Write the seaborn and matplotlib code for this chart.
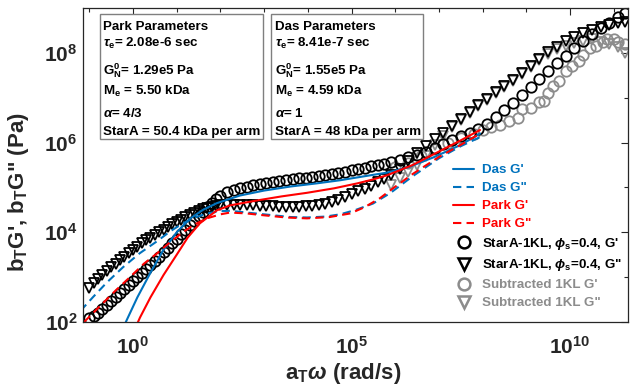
import numpy as np
import pandas as pd
import seaborn as sns
import matplotlib
matplotlib.use("Agg")
import matplotlib.pyplot as plt
from matplotlib.lines import Line2D
from matplotlib.patches import Rectangle
from matplotlib.ticker import FixedLocator, NullFormatter

# ---------------- data (log10 values) ----------------
# StarA-1KL, phi_s = 0.4 : frequency (log10 a_T w) and moduli (log10 Pa)
star_logw = [-1.0, -0.9, -0.8, -0.7, -0.6, -0.5, -0.4, -0.3, -0.2, -0.1,
             0.0, 0.1, 0.2, 0.3, 0.4, 0.5, 0.6, 0.7, 0.8, 0.9,
             1.0, 1.1, 1.2, 1.3, 1.4, 1.5, 1.6, 1.7, 1.8, 1.9, 2.0,
             2.15, 2.3, 2.45, 2.6, 2.75, 2.9, 3.05, 3.2, 3.35, 3.5,
             3.65, 3.8, 3.95, 4.1, 4.25, 4.4, 4.55, 4.7, 4.85, 5.0,
             5.15, 5.3, 5.45, 5.6, 5.75, 5.9,
             6.1, 6.3, 6.5, 6.7, 6.9, 7.1, 7.3, 7.5, 7.7, 7.9,
             8.1, 8.3, 8.5, 8.7, 8.9, 9.1, 9.3, 9.5, 9.7, 9.9,
             10.1, 10.3, 10.5, 10.7, 10.9, 11.1, 11.25]
star_logGp = [2.08, 2.14, 2.21, 2.29, 2.37, 2.46, 2.55, 2.64, 2.73, 2.82,
              2.91, 3.0, 3.1, 3.19, 3.28, 3.37, 3.46, 3.56, 3.66, 3.76,
              3.86, 3.96, 4.06, 4.16, 4.26, 4.36, 4.46, 4.56, 4.65, 4.74, 4.82,
              4.9, 4.95, 4.99, 5.02, 5.05, 5.08, 5.1, 5.12, 5.14, 5.16,
              5.18, 5.2, 5.22, 5.24, 5.26, 5.28, 5.3, 5.32, 5.35, 5.38,
              5.41, 5.44, 5.47, 5.5, 5.53, 5.57,
              5.62, 5.67, 5.73, 5.8, 5.88, 5.97, 6.06, 6.14, 6.22, 6.3,
              6.42, 6.56, 6.72, 6.88, 7.05, 7.23, 7.41, 7.59, 7.77, 7.94,
              8.1, 8.26, 8.41, 8.55, 8.67, 8.8, 8.88]
star_logGpp = [2.75, 2.86, 2.96, 3.05, 3.14, 3.22, 3.3, 3.38, 3.46, 3.54,
               3.61, 3.68, 3.75, 3.82, 3.88, 3.94, 4.0, 4.06, 4.12, 4.18,
               4.23, 4.28, 4.33, 4.38, 4.43, 4.47, 4.51, 4.54, 4.57, 4.59, 4.6,
               4.61, 4.61, 4.61, 4.6, 4.6, 4.59, 4.58, 4.58, 4.57, 4.57,
               4.57, 4.57, 4.58, 4.59, 4.61, 4.64, 4.68, 4.73, 4.79, 4.85,
               4.91, 4.97, 5.04, 5.11, 5.18, 5.27,
               5.42, 5.6, 5.77, 5.93, 6.08, 6.22, 6.37, 6.52, 6.68, 6.84,
               6.98, 7.12, 7.26, 7.4, 7.55, 7.7, 7.86, 8.02, 8.14, 8.26,
               8.36, 8.45, 8.52, 8.58, 8.63, 8.66, 8.68]

# Subtracted 1KL
sub_gp_logw = [6.0, 6.3, 6.6, 6.9, 7.2, 7.5, 7.8, 8.0, 8.2, 8.4, 8.6, 8.8,
               8.9, 9.1, 9.3, 9.4, 9.5, 9.6, 9.75, 9.9, 10.05, 10.2, 10.3,
               10.45, 10.6, 10.75, 10.85, 11.0, 11.1, 11.25]
sub_gp_logG = [5.45, 5.55, 5.7, 5.85, 5.98, 6.1, 6.2, 6.28, 6.35, 6.4, 6.48, 6.55,
               6.75, 6.78, 6.9, 6.93, 7.1, 7.25, 7.38, 7.6, 7.7, 7.82, 7.95,
               8.1, 8.15, 8.25, 8.3, 8.3, 8.25, 8.2]
sub_gpp_logw = [5.9, 6.1, 6.3, 6.5, 6.7, 6.9, 7.1, 7.3, 7.5, 7.7, 7.9, 8.1,
                8.3, 8.5, 8.7, 8.9, 9.1, 9.3, 9.5, 9.7, 9.9, 10.1, 10.3,
                10.5, 10.7, 10.9, 11.1, 11.25]
sub_gpp_logG = [5.05, 5.2, 5.35, 5.5, 5.7, 5.95, 6.15, 6.35, 6.5, 6.66, 6.82, 6.96,
                7.1, 7.24, 7.38, 7.53, 7.68, 7.84, 7.98, 8.08, 8.15, 8.22, 8.27,
                8.3, 8.25, 8.2, 8.12, 8.0]

# Model curves
das_gp_logw = [-0.35, -0.14, 0.1, 0.4, 0.69, 1.0, 1.3, 1.6, 1.92, 2.45, 3.0, 3.6,
               4.2, 4.74, 5.3, 5.81, 6.3, 6.9, 7.5, 7.94]
das_gp_logG = [1.6, 2.05, 2.55, 3.1, 3.6, 4.0, 4.3, 4.5, 4.65, 4.82, 4.93, 5.02,
               5.09, 5.16, 5.25, 5.33, 5.45, 5.68, 5.95, 6.2]
das_gpp_logw = [-1.2, -0.92, -0.6, -0.23, 0.15, 0.55, 0.85, 1.14, 1.45, 1.69, 2.0,
                2.22, 2.7, 3.2, 3.6, 3.98, 4.4, 4.74, 5.1, 5.49, 5.88, 6.4, 7.0,
                7.5, 7.94]
das_gpp_logG = [2.25, 2.55, 2.88, 3.22, 3.53, 3.8, 4.02, 4.2, 4.34, 4.42, 4.47,
                4.48, 4.43, 4.38, 4.34, 4.33, 4.35, 4.4, 4.5, 4.64, 4.87, 5.25, 5.65,
                5.92, 6.12]
park_gp_logw = [0.0, 0.16, 0.4, 0.7, 1.0, 1.25, 1.53, 1.92, 2.22, 2.84, 3.4, 3.98,
                4.6, 5.13, 5.5, 5.81, 6.4, 7.0, 7.5, 7.94]
park_gp_logG = [1.75, 2.1, 2.55, 3.05, 3.5, 3.88, 4.2, 4.49, 4.6, 4.71, 4.8, 4.88,
                4.98, 5.09, 5.18, 5.27, 5.5, 5.8, 6.05, 6.28]
park_gpp_logw = [-1.12, -0.76, -0.4, -0.07, 0.25, 0.55, 0.85, 1.14, 1.4, 1.69, 2.0,
                 2.22, 2.6, 2.98, 3.5, 3.98, 4.5, 4.97, 5.3, 5.65, 5.88, 6.4, 7.0,
                 7.5, 7.94]
park_gpp_logG = [2.0, 2.35, 2.7, 3.0, 3.3, 3.53, 3.78, 4.0, 4.17, 4.31, 4.4,
                 4.44, 4.42, 4.38, 4.33, 4.31, 4.34, 4.42, 4.56, 4.76, 4.93, 5.3, 5.68,
                 5.95, 6.2]

legend_labels = ["Das G'", 'Das G"', "Park G'", 'Park G"',
                 r"StarA-1KL, $\phi_\mathrm{s}$=0.4, G'",
                 r'StarA-1KL, $\phi_\mathrm{s}$=0.4, G"',
                 "Subtracted 1KL G'", 'Subtracted 1KL G"']

park_lines = ["Park Parameters", r"$\tau_\mathrm{e}$= 2.08e-6 sec",
              r"G$_\mathrm{N}^\mathrm{0}$= 1.29e5 Pa", r"M$_\mathrm{e}$ = 5.50 kDa",
              r"$\alpha$= 4/3", "StarA = 50.4 kDa per arm"]
das_lines = ["Das Parameters", r"$\tau_\mathrm{e}$= 8.41e-7 sec",
             r"G$_\mathrm{N}^\mathrm{0}$= 1.55e5 Pa", r"M$_\mathrm{e}$ = 4.59 kDa",
             r"$\alpha$= 1", "StarA = 48 kDa per arm"]

xtick_vals = [1e0, 1e5, 1e10]
xtick_labels = [r"$\mathrm{10^{0}}$", r"$\mathrm{10^{5}}$", r"$\mathrm{10^{10}}$"]
ytick_vals = [1e2, 1e4, 1e6, 1e8]
ytick_labels = [r"$\mathrm{10^{2}}$", r"$\mathrm{10^{4}}$", r"$\mathrm{10^{6}}$", r"$\mathrm{10^{8}}$"]

x_label = r"a$_\mathrm{T}\omega$ (rad/s)"
y_label = "b$_\\mathrm{T}$G', b$_\\mathrm{T}$G\" (Pa)"

# ---------------- style ----------------
sns.set_theme(style="white")
plt.rcParams["font.family"] = ["Liberation Sans", "DejaVu Sans"]
plt.rcParams["font.weight"] = "bold"
plt.rcParams["mathtext.fontset"] = "custom"
plt.rcParams["mathtext.rm"] = "Liberation Sans:bold"
plt.rcParams["mathtext.bf"] = "Liberation Sans:bold"
plt.rcParams["mathtext.it"] = "Liberation Sans:italic"

BLUE = "#0072BD"
RED = "#FF0000"
GRAY = "#8c8c8c"
DASH = (0, (4, 2.5))

fig = plt.figure(figsize=(6.36, 3.88), dpi=100)
ax = fig.add_axes([0.1305, 0.1701, 0.857, 0.8093])


def df_of(lw, lg):
    return pd.DataFrame({"w": 10 ** np.array(lw, float), "G": 10 ** np.array(lg, float)})


mk = dict(estimator=None, sort=False, linestyle="", ax=ax, legend=False)

# subtracted (gray) first
sns.lineplot(data=df_of(sub_gpp_logw, sub_gpp_logG), x="w", y="G", marker="v",
             mfc="none", mec=GRAY, ms=7.5, mew=1.3, **mk)
sns.lineplot(data=df_of(sub_gp_logw, sub_gp_logG), x="w", y="G", marker="o",
             mfc="none", mec=GRAY, ms=7.5, mew=1.3, **mk)
# sample (black)
sns.lineplot(data=df_of(star_logw, star_logGpp), x="w", y="G", marker="v",
             mfc="none", mec="black", ms=7.5, mew=1.3, **mk)
sns.lineplot(data=df_of(star_logw, star_logGp), x="w", y="G", marker="o",
             mfc="none", mec="black", ms=7.5, mew=1.3, **mk)

ln = dict(estimator=None, sort=False, ax=ax, legend=False, lw=1.5)
sns.lineplot(data=df_of(das_gp_logw, das_gp_logG), x="w", y="G", color=BLUE, **ln)
sns.lineplot(data=df_of(das_gpp_logw, das_gpp_logG), x="w", y="G", color=BLUE,
             linestyle=DASH, **ln)
sns.lineplot(data=df_of(park_gp_logw, park_gp_logG), x="w", y="G", color=RED, **ln)
sns.lineplot(data=df_of(park_gpp_logw, park_gpp_logG), x="w", y="G", color=RED,
             linestyle=DASH, **ln)

ax.set_xscale("log")
ax.set_yscale("log")
ax.set_xlim(10 ** -1.144, 10 ** 11.327)
ax.set_ylim(1e2, 1e9)

ax.xaxis.set_major_locator(FixedLocator(xtick_vals))
ax.set_xticklabels(xtick_labels)
ax.xaxis.set_minor_locator(FixedLocator([10.0 ** k for k in range(-1, 12)]))
ax.xaxis.set_minor_formatter(NullFormatter())
ax.yaxis.set_major_locator(FixedLocator(ytick_vals))
ax.set_yticklabels(ytick_labels)
ax.yaxis.set_minor_locator(FixedLocator([10.0 ** k for k in range(2, 10)]))
ax.yaxis.set_minor_formatter(NullFormatter())

ax.tick_params(which="both", direction="in", top=True, right=True, colors="#262626",
               labelcolor="#262626")
ax.tick_params(which="major", length=5, width=0.8, labelsize=15)
ax.tick_params(axis="x", which="major", pad=10)
ax.tick_params(axis="y", which="major", pad=4)
ax.tick_params(which="minor", length=3, width=0.8)
for s in ax.spines.values():
    s.set_color("#262626")
    s.set_linewidth(0.9)

ax.set_xlabel(x_label, fontsize=16, fontweight="bold", color="#262626")
ax.set_ylabel(y_label, fontsize=16, fontweight="bold", color="#262626")
ax.xaxis.set_label_coords(0.477, -0.125)
ax.yaxis.set_label_coords(-0.095, 0.415)

# parameter boxes
for (x0, x1, tx, lines) in [(0.031, 0.330, 0.037, park_lines),
                            (0.345, 0.624, 0.352, das_lines)]:
    ax.add_patch(Rectangle((x0, 0.583), x1 - x0, 0.398, transform=ax.transAxes,
                           fill=True, fc="white", ec="#7f7f7f", lw=1.0, zorder=5))
    for yb, t in zip([0.9315, 0.876, 0.787, 0.723, 0.653, 0.595], lines):
        ax.text(tx, yb, t, transform=ax.transAxes, fontsize=9.6, fontweight="bold",
                va="baseline", ha="left", color="black", zorder=6)

# legend
handles = [
    Line2D([], [], color=BLUE, lw=1.5),
    Line2D([], [], color=BLUE, lw=1.5, linestyle=DASH),
    Line2D([], [], color=RED, lw=1.5),
    Line2D([], [], color=RED, lw=1.5, linestyle=DASH),
    Line2D([], [], linestyle="", marker="o", mfc="none", mec="black", ms=8.5, mew=1.8),
    Line2D([], [], linestyle="", marker="v", mfc="none", mec="black", ms=8.5, mew=1.8),
    Line2D([], [], linestyle="", marker="o", mfc="none", mec=GRAY, ms=8.5, mew=1.8),
    Line2D([], [], linestyle="", marker="v", mfc="none", mec=GRAY, ms=8.5, mew=1.8),
]
leg = ax.legend(handles, legend_labels, loc="upper left", bbox_to_anchor=(0.679, 0.503),
                frameon=False, fontsize=9.6, handlelength=1.6, handletextpad=0.6,
                labelspacing=0.42, borderpad=0, borderaxespad=0,
                labelcolor=[BLUE, BLUE, RED, RED, "black", "black", GRAY, GRAY])
for t in leg.get_texts():
    t.set_fontweight("bold")

fig.savefig("out.png", dpi=100)
